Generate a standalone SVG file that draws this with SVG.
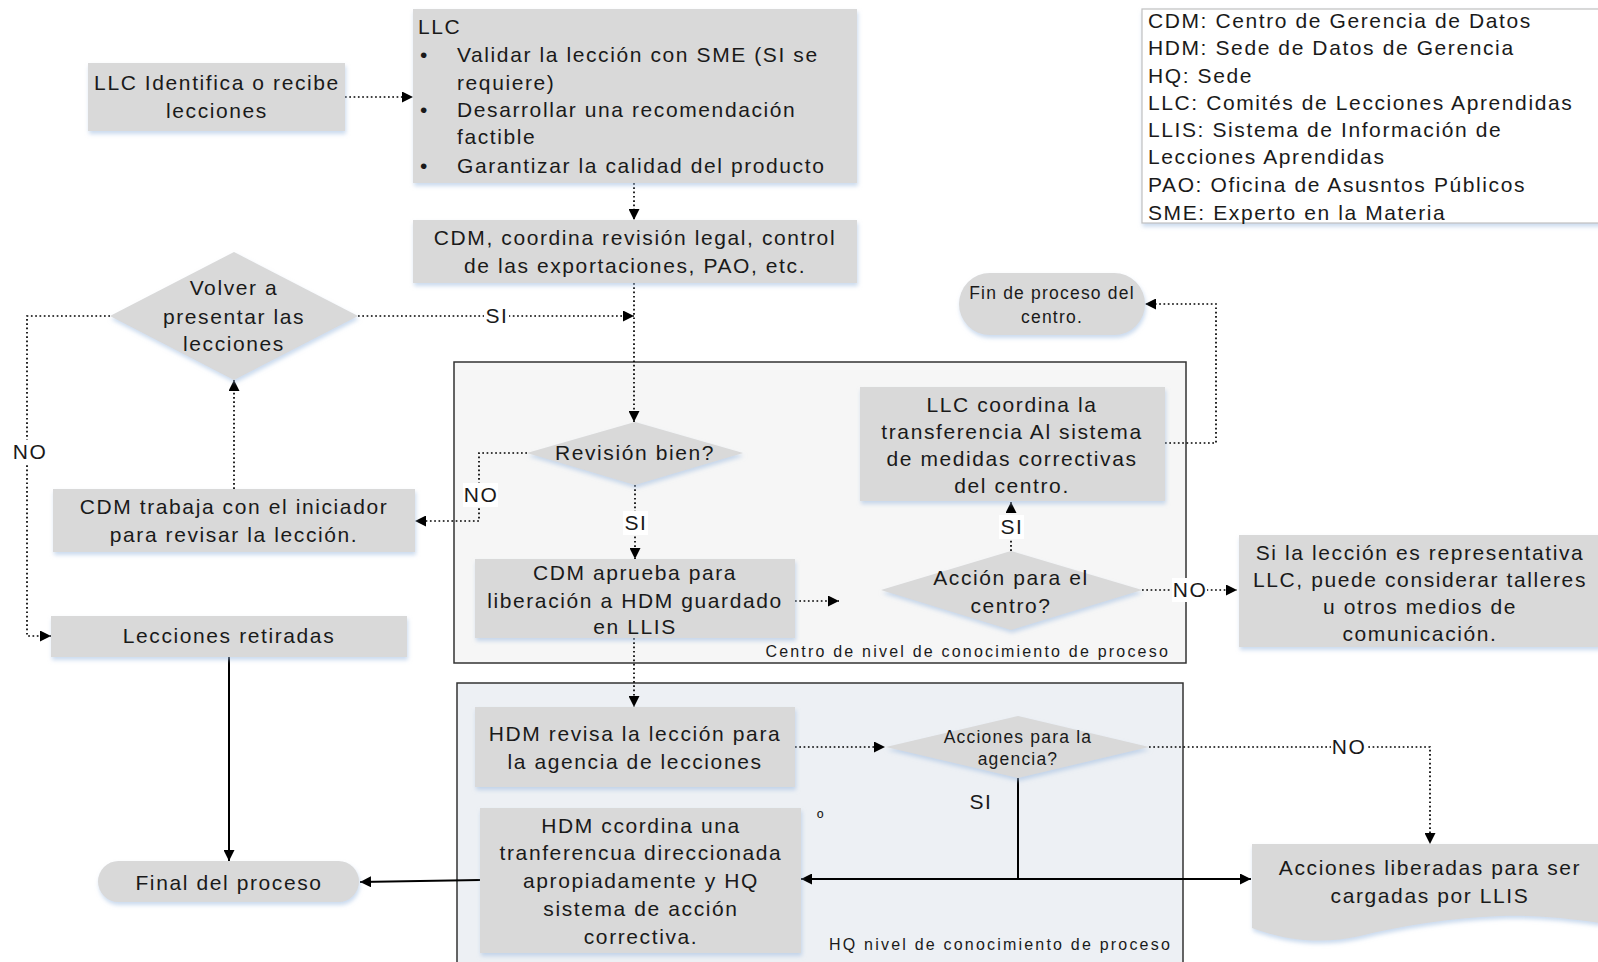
<svg xmlns="http://www.w3.org/2000/svg" width="1598" height="962" viewBox="0 0 1598 962">
  <defs>
    <style>
      text { font-family: "Liberation Sans", Arial, sans-serif; fill: #1a1a1a; }
      .t { font-size: 21px; letter-spacing: 1.6px; }
      .s { font-size: 17.5px; letter-spacing: 1.2px; }
      .c { font-size: 16px; letter-spacing: 2.2px; }
      .m { text-anchor: middle; }
      .box { fill: #d9d9d9; filter: url(#sh); }
      .dot { fill: none; stroke: #000; stroke-width: 1.7; stroke-dasharray: 1.7 2.6; marker-end: url(#ah); }
      .sol { fill: none; stroke: #000; stroke-width: 2; }
      .arr { marker-end: url(#ah); }
      .lbl { fill: #fff; }
    </style>
    <filter id="sh" x="-10%" y="-10%" width="120%" height="130%">
      <feDropShadow dx="1" dy="3" stdDeviation="2" flood-color="#9fbce0" flood-opacity="0.55"/>
    </filter>
    <marker id="ah" viewBox="0 0 10 10" refX="10" refY="5" markerWidth="11" markerHeight="11" markerUnits="userSpaceOnUse" orient="auto">
      <path d="M0,0 L10,5 L0,10 Z" fill="#000"/>
    </marker>
  </defs>

  <rect width="1598" height="962" fill="#fff"/>

  <!-- swimlane containers -->
  <g id="lane-centro">
    <rect x="454" y="362" width="732" height="301" fill="#f6f6f6" stroke="#333" stroke-width="1.5"/>
    <text class="c" x="1170" y="657" text-anchor="end">Centro de nivel de conocimiento de proceso</text>
  </g>
  <g id="lane-hq">
    <rect x="457" y="683" width="726" height="300" fill="#edf0f4" stroke="#333" stroke-width="1.5"/>
    <text class="c" x="1172" y="950" text-anchor="end">HQ nivel de conocimiento de proceso</text>
  </g>

  <!-- connectors -->
  <g id="connectors">
    <path class="dot" d="M345,97 H413"/>
    <path class="dot" d="M634,183 V220"/>
    <path class="dot" d="M634,283 V422"/>
    <path class="dot" d="M358,316 H634"/>
    <path class="dot" d="M110,316 H27 V636 H51"/>
    <path class="dot" d="M527,453 H479 V521 H415"/>
    <path class="dot" d="M234,489 V380"/>
    <path class="dot" d="M635,485 V559"/>
    <path class="dot" d="M795,601 H839"/>
    <path class="dot" d="M634,638 V707"/>
    <path class="dot" d="M1011,551 V502"/>
    <path class="dot" d="M1142,590 H1237"/>
    <path class="dot" d="M1165,443 H1216 V304 H1145"/>
    <path class="dot" d="M795,747 H885"/>
    <path class="dot" d="M1149,747 H1430 V844"/>

    <path class="sol" d="M1018,778 V879"/>
    <path class="sol arr" d="M1018,879 H801"/>
    <path class="sol arr" d="M1018,879 H1251"/>
    <path class="sol arr" d="M480,880 L360,882"/>
    <path class="sol arr" d="M229,657 V861"/>

    <!-- branch labels -->
    <rect class="lbl" x="484" y="304" width="25" height="24"/>
    <text class="t m" x="497" y="323">SI</text>
    <rect class="lbl" x="12" y="440" width="35" height="24"/>
    <text class="t m" x="30" y="459">NO</text>
    <rect class="lbl" x="463" y="483" width="35" height="24"/>
    <text class="t m" x="481" y="502">NO</text>
    <rect class="lbl" x="623" y="511" width="25" height="24"/>
    <text class="t m" x="636" y="530">SI</text>
    <rect class="lbl" x="999" y="515" width="25" height="24"/>
    <text class="t m" x="1012" y="534">SI</text>
    <rect class="lbl" x="1172" y="578" width="35" height="24"/>
    <text class="t m" x="1190" y="597">NO</text>
    <rect class="lbl" x="1331" y="735" width="35" height="24"/>
    <text class="t m" x="1349" y="754">NO</text>
    <text class="t m" x="981" y="809">SI</text>
    <text class="s" x="817" y="824">º</text>
  </g>

  <!-- nodes -->
  <g id="llc-identifica">
    <rect class="box" x="88" y="63" width="257" height="68"/>
    <text class="t m" x="217" y="90">LLC Identifica o recibe</text>
    <text class="t m" x="217" y="118">lecciones</text>
  </g>

  <g id="llc-tareas">
    <rect class="box" x="413" y="9" width="444" height="174"/>
    <text class="t" x="418" y="34">LLC</text>
    <text class="t" x="420" y="62">•</text>
    <text class="t" x="457" y="62">Validar la lección con SME (SI se</text>
    <text class="t" x="457" y="90">requiere)</text>
    <text class="t" x="420" y="117">•</text>
    <text class="t" x="457" y="117">Desarrollar una recomendación</text>
    <text class="t" x="457" y="144">factible</text>
    <text class="t" x="420" y="173">•</text>
    <text class="t" x="457" y="173">Garantizar la calidad del producto</text>
  </g>

  <g id="cdm-coordina">
    <rect class="box" x="413" y="220" width="444" height="63"/>
    <text class="t m" x="635" y="245">CDM, coordina revisión legal, control</text>
    <text class="t m" x="635" y="273">de las exportaciones, PAO, etc.</text>
  </g>

  <g id="leyenda">
    <rect x="1142" y="9" width="470" height="214" fill="#fff" stroke="#c0c0c0" stroke-width="1.2" filter="url(#sh)"/>
    <text class="t" x="1148" y="28">CDM: Centro de Gerencia de Datos</text>
    <text class="t" x="1148" y="55">HDM: Sede de Datos de  Gerencia</text>
    <text class="t" x="1148" y="83">HQ: Sede</text>
    <text class="t" x="1148" y="110">LLC: Comités de Lecciones Aprendidas</text>
    <text class="t" x="1148" y="137">LLIS: Sistema de Información de</text>
    <text class="t" x="1148" y="164">Lecciones Aprendidas</text>
    <text class="t" x="1148" y="192">PAO: Oficina de Asusntos Públicos</text>
    <text class="t" x="1148" y="220">SME: Experto en la Materia</text>
  </g>

  <g id="volver-presentar">
    <path class="box" d="M234,252 L358,316 L234,380 L110,316 Z"/>
    <text class="t m" x="234" y="295">Volver a</text>
    <text class="t m" x="234" y="324">presentar las</text>
    <text class="t m" x="234" y="351">lecciones</text>
  </g>

  <g id="fin-centro">
    <rect class="box" x="959" y="273" width="186" height="62" rx="31"/>
    <text class="s m" x="1052" y="299">Fin de proceso del</text>
    <text class="s m" x="1052" y="323">centro.</text>
  </g>

  <g id="revision-bien">
    <path class="box" d="M635,422 L743,453 L635,485 L527,453 Z"/>
    <text class="t m" x="635" y="460">Revisión bien?</text>
  </g>

  <g id="cdm-trabaja">
    <rect class="box" x="53" y="489" width="362" height="63"/>
    <text class="t m" x="234" y="514">CDM trabaja con el iniciador</text>
    <text class="t m" x="234" y="542">para revisar la lección.</text>
  </g>

  <g id="llc-coordina">
    <rect class="box" x="860" y="387" width="305" height="114"/>
    <text class="t m" x="1012" y="412">LLC coordina la</text>
    <text class="t m" x="1012" y="439">transferencia Al sistema</text>
    <text class="t m" x="1012" y="466">de medidas correctivas</text>
    <text class="t m" x="1012" y="493">del centro.</text>
  </g>

  <g id="cdm-aprueba">
    <rect class="box" x="475" y="559" width="320" height="79"/>
    <text class="t m" x="635" y="580">CDM aprueba para</text>
    <text class="t m" x="635" y="608">liberación a HDM guardado</text>
    <text class="t m" x="635" y="634">en LLIS</text>
  </g>

  <g id="accion-centro">
    <path class="box" d="M1011,551 L1142,590 L1011,630 L881,590 Z"/>
    <text class="t m" x="1011" y="585">Acción para el</text>
    <text class="t m" x="1011" y="613">centro?</text>
  </g>

  <g id="si-representativa">
    <rect class="box" x="1239" y="535" width="362" height="112"/>
    <text class="t m" x="1420" y="560">Si la lección es representativa</text>
    <text class="t m" x="1420" y="587">LLC, puede considerar talleres</text>
    <text class="t m" x="1420" y="614">u otros medios de</text>
    <text class="t m" x="1420" y="641">comunicación.</text>
  </g>

  <g id="lecciones-retiradas">
    <rect class="box" x="51" y="616" width="356" height="41"/>
    <text class="t m" x="229" y="643">Lecciones retiradas</text>
  </g>

  <g id="hdm-revisa">
    <rect class="box" x="475" y="707" width="320" height="80"/>
    <text class="t m" x="635" y="741">HDM revisa la lección para</text>
    <text class="t m" x="635" y="769">la agencia de lecciones</text>
  </g>

  <g id="acciones-agencia">
    <path class="box" d="M1018,716 L1149,747 L1018,778 L886,747 Z"/>
    <text class="s m" x="1018" y="743">Acciones para la</text>
    <text class="s m" x="1018" y="765">agencia?</text>
  </g>

  <g id="hdm-ccordina">
    <rect class="box" x="480" y="808" width="321" height="145"/>
    <text class="t m" x="641" y="833">HDM ccordina una</text>
    <text class="t m" x="641" y="860">tranferencua direccionada</text>
    <text class="t m" x="641" y="888">apropiadamente y HQ</text>
    <text class="t m" x="641" y="916">sistema de acción</text>
    <text class="t m" x="641" y="944">correctiva.</text>
  </g>

  <g id="final-proceso">
    <rect class="box" x="98" y="861" width="261" height="41" rx="20.5"/>
    <text class="t m" x="229" y="890">Final del proceso</text>
  </g>

  <g id="acciones-liberadas">
    <path class="box" d="M1252,844 H1600 V923 C1570,919 1540,915 1500,916 C1450,918 1400,926 1360,936 C1320,945 1285,940 1252,928 Z"/>
    <text class="t m" x="1430" y="875">Acciones liberadas para ser</text>
    <text class="t m" x="1430" y="903">cargadas por LLIS</text>
  </g>
</svg>
